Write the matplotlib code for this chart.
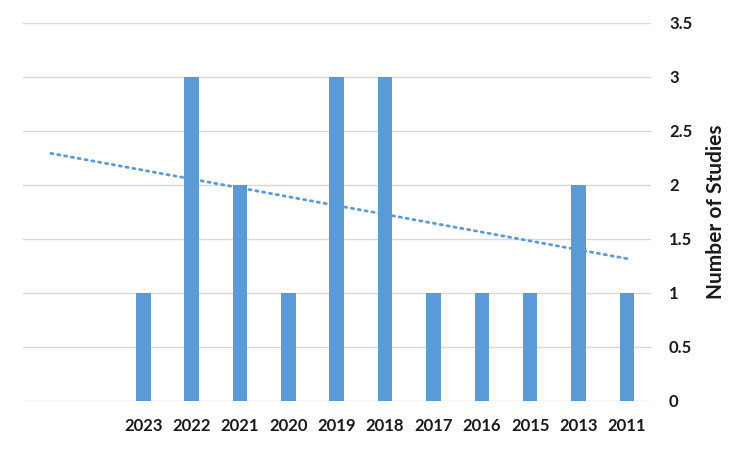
import numpy as np
import matplotlib
matplotlib.use("Agg")
import matplotlib.pyplot as plt

# Data (chronological order, as in the source sheet; axis is drawn reversed)
years = ['2011', '2013', '2015', '2016', '2017', '2018', '2019', '2020', '2021', '2022', '2023']
counts = [1, 2, 1, 1, 1, 3, 3, 1, 2, 3, 1]
blank_categories = ['', '']  # two empty categories after 2023
y_ticks = [0, 0.5, 1, 1.5, 2, 2.5, 3, 3.5]
y_tick_labels = ['0', '0.5', '1', '1.5', '2', '2.5', '3', '3.5']
y_title = 'Number of Studies'

plt.rcParams['font.family'] = ['Lato', 'DejaVu Sans']

blue = '#5B9BD5'
grid = '#D9D9D9'
text_col = '#1a1a1a'

categories = years + blank_categories
x_all = np.arange(len(categories))
x_data = np.arange(len(years))

fig = plt.figure(figsize=(7.5, 4.5), dpi=100)
ax = fig.add_axes([0.030, 0.109, 0.838, 0.840])

ax.bar(x_data, counts, width=0.30, color=blue, zorder=3)

# linear trendline fitted on the data, extended across all categories
slope, intercept = np.polyfit(x_data, counts, 1)
ax.plot(x_all, slope * x_all + intercept, color=blue, linewidth=2.0,
        linestyle=(0, (0.8, 1.7)), dash_capstyle='round', zorder=4)

ax.set_xlim(len(categories) - 0.5, -0.5)
ax.set_ylim(0, 3.5)
ax.set_xticks(x_all)
ax.set_xticklabels(categories, fontsize=12, fontweight='bold', color=text_col)
ax.set_yticks(y_ticks)
ax.set_yticklabels(y_tick_labels, fontsize=12, fontweight='bold', color=text_col)

ax.yaxis.tick_right()
ax.yaxis.set_label_position('right')
ax.tick_params(axis='both', length=0)
ax.tick_params(axis='x', pad=12)
ax.tick_params(axis='y', pad=13)
for t in ax.get_yticklabels():
    t.set_horizontalalignment('left')

ax.set_ylabel(y_title, fontsize=15, fontweight='bold', color=text_col, labelpad=10)

for s in ax.spines.values():
    s.set_visible(False)
ax.grid(axis='y', color=grid, linewidth=1.0, zorder=0)
ax.set_axisbelow(True)

fig.savefig('out.png', dpi=100, facecolor='white')
